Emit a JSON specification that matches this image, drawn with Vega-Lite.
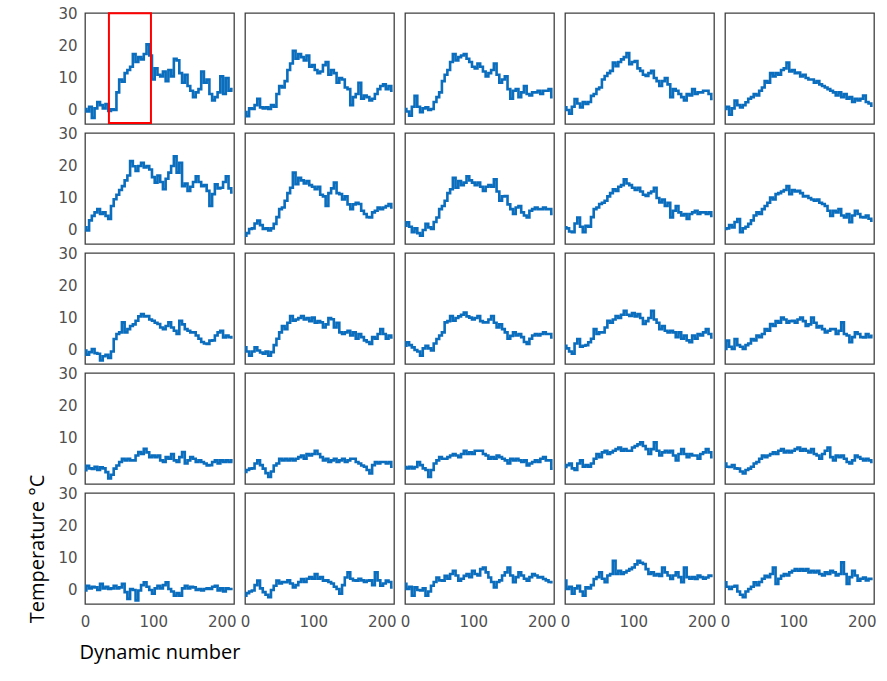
{
"$schema":"https://vega.github.io/schema/vega-lite/v6.json",
"padding":{"left":27,"top":6,"right":5,"bottom":5},
"background":"white",
"datasets":{
"box":[{"x1":35,"x2":96.5,"y1":30.2,"y2":-4.1}],
"s":[
{"p":1,"x":0,"t":0.3},{"p":1,"x":4,"t":-0.5},{"p":1,"x":8,"t":1.0},{"p":1,"x":12,"t":-2.5},{"p":1,"x":16,"t":0.5},{"p":1,"x":20,"t":2.5},{"p":1,"x":24,"t":1.5},{"p":1,"x":28,"t":0.5},{"p":1,"x":32,"t":1.8},{"p":1,"x":36,"t":-0.3},{"p":1,"x":40,"t":0.2},{"p":1,"x":44,"t":0.0},{"p":1,"x":48,"t":5.5},{"p":1,"x":52,"t":9.5},{"p":1,"x":56,"t":8.8},{"p":1,"x":60,"t":11.5},{"p":1,"x":64,"t":12.5},{"p":1,"x":68,"t":13.5},{"p":1,"x":72,"t":17.5},{"p":1,"x":76,"t":15.0},{"p":1,"x":80,"t":16.5},{"p":1,"x":84,"t":15.8},{"p":1,"x":88,"t":17.5},{"p":1,"x":92,"t":20.5},{"p":1,"x":96,"t":17.0},{"p":1,"x":100,"t":9.5},{"p":1,"x":104,"t":13.0},{"p":1,"x":108,"t":11.0},{"p":1,"x":112,"t":10.5},{"p":1,"x":116,"t":12.0},{"p":1,"x":120,"t":9.0},{"p":1,"x":124,"t":12.5},{"p":1,"x":128,"t":10.5},{"p":1,"x":132,"t":16.0},{"p":1,"x":136,"t":15.5},{"p":1,"x":140,"t":11.5},{"p":1,"x":144,"t":8.5},{"p":1,"x":148,"t":11.0},{"p":1,"x":152,"t":7.5},{"p":1,"x":156,"t":6.0},{"p":1,"x":160,"t":4.0},{"p":1,"x":164,"t":5.5},{"p":1,"x":168,"t":6.5},{"p":1,"x":172,"t":12.0},{"p":1,"x":176,"t":8.5},{"p":1,"x":180,"t":9.5},{"p":1,"x":184,"t":5.0},{"p":1,"x":188,"t":3.0},{"p":1,"x":192,"t":4.0},{"p":1,"x":196,"t":5.5},{"p":1,"x":200,"t":10.5},{"p":1,"x":204,"t":5.0},{"p":1,"x":208,"t":10.0},{"p":1,"x":212,"t":6.0},{"p":1,"x":216,"t":6.5},
{"p":2,"x":0,"t":-0.7},{"p":2,"x":4,"t":-2.0},{"p":2,"x":8,"t":0.5},{"p":2,"x":12,"t":0.3},{"p":2,"x":16,"t":1.5},{"p":2,"x":20,"t":3.5},{"p":2,"x":24,"t":0.8},{"p":2,"x":28,"t":0.5},{"p":2,"x":32,"t":0.8},{"p":2,"x":36,"t":0.3},{"p":2,"x":40,"t":1.5},{"p":2,"x":44,"t":1.0},{"p":2,"x":48,"t":5.0},{"p":2,"x":52,"t":7.5},{"p":2,"x":56,"t":7.0},{"p":2,"x":60,"t":9.0},{"p":2,"x":64,"t":12.5},{"p":2,"x":68,"t":14.5},{"p":2,"x":72,"t":18.5},{"p":2,"x":76,"t":16.0},{"p":2,"x":80,"t":17.5},{"p":2,"x":84,"t":16.5},{"p":2,"x":88,"t":15.5},{"p":2,"x":92,"t":17.0},{"p":2,"x":96,"t":13.5},{"p":2,"x":100,"t":14.0},{"p":2,"x":104,"t":12.5},{"p":2,"x":108,"t":11.5},{"p":2,"x":112,"t":12.0},{"p":2,"x":116,"t":14.0},{"p":2,"x":120,"t":15.0},{"p":2,"x":124,"t":11.0},{"p":2,"x":128,"t":12.5},{"p":2,"x":132,"t":11.5},{"p":2,"x":136,"t":8.5},{"p":2,"x":140,"t":10.0},{"p":2,"x":144,"t":9.5},{"p":2,"x":148,"t":7.0},{"p":2,"x":152,"t":6.5},{"p":2,"x":156,"t":1.5},{"p":2,"x":160,"t":4.0},{"p":2,"x":164,"t":5.0},{"p":2,"x":168,"t":8.5},{"p":2,"x":172,"t":3.5},{"p":2,"x":176,"t":4.5},{"p":2,"x":180,"t":4.0},{"p":2,"x":184,"t":3.0},{"p":2,"x":188,"t":3.5},{"p":2,"x":192,"t":5.0},{"p":2,"x":196,"t":6.5},{"p":2,"x":200,"t":7.5},{"p":2,"x":204,"t":8.0},{"p":2,"x":208,"t":6.5},{"p":2,"x":212,"t":7.5},{"p":2,"x":216,"t":6.0},
{"p":3,"x":0,"t":0.3},{"p":3,"x":4,"t":-0.5},{"p":3,"x":8,"t":-1.8},{"p":3,"x":12,"t":1.0},{"p":3,"x":16,"t":4.4},{"p":3,"x":20,"t":1.0},{"p":3,"x":24,"t":-0.7},{"p":3,"x":28,"t":0.5},{"p":3,"x":32,"t":0.8},{"p":3,"x":36,"t":0.0},{"p":3,"x":40,"t":0.3},{"p":3,"x":44,"t":2.5},{"p":3,"x":48,"t":4.0},{"p":3,"x":52,"t":5.5},{"p":3,"x":56,"t":9.0},{"p":3,"x":60,"t":11.0},{"p":3,"x":64,"t":12.5},{"p":3,"x":68,"t":15.0},{"p":3,"x":72,"t":17.5},{"p":3,"x":76,"t":15.5},{"p":3,"x":80,"t":16.5},{"p":3,"x":84,"t":17.0},{"p":3,"x":88,"t":17.5},{"p":3,"x":92,"t":16.0},{"p":3,"x":96,"t":15.0},{"p":3,"x":100,"t":13.5},{"p":3,"x":104,"t":13.0},{"p":3,"x":108,"t":14.5},{"p":3,"x":112,"t":13.5},{"p":3,"x":116,"t":12.0},{"p":3,"x":120,"t":10.5},{"p":3,"x":124,"t":11.5},{"p":3,"x":128,"t":12.5},{"p":3,"x":132,"t":14.5},{"p":3,"x":136,"t":11.0},{"p":3,"x":140,"t":8.5},{"p":3,"x":144,"t":9.5},{"p":3,"x":148,"t":10.5},{"p":3,"x":152,"t":6.5},{"p":3,"x":156,"t":3.5},{"p":3,"x":160,"t":6.0},{"p":3,"x":164,"t":6.5},{"p":3,"x":168,"t":4.0},{"p":3,"x":172,"t":5.5},{"p":3,"x":176,"t":7.5},{"p":3,"x":180,"t":5.0},{"p":3,"x":184,"t":4.5},{"p":3,"x":188,"t":5.5},{"p":3,"x":192,"t":5.5},{"p":3,"x":196,"t":6.0},{"p":3,"x":200,"t":5.0},{"p":3,"x":204,"t":6.0},{"p":3,"x":208,"t":6.0},{"p":3,"x":212,"t":6.5},{"p":3,"x":216,"t":4.0},
{"p":4,"x":0,"t":0.8},{"p":4,"x":4,"t":0.0},{"p":4,"x":8,"t":-1.2},{"p":4,"x":12,"t":1.0},{"p":4,"x":16,"t":3.4},{"p":4,"x":20,"t":2.0},{"p":4,"x":24,"t":0.8},{"p":4,"x":28,"t":2.5},{"p":4,"x":32,"t":1.9},{"p":4,"x":36,"t":2.5},{"p":4,"x":40,"t":4.4},{"p":4,"x":44,"t":5.0},{"p":4,"x":48,"t":6.5},{"p":4,"x":52,"t":7.0},{"p":4,"x":56,"t":9.5},{"p":4,"x":60,"t":10.6},{"p":4,"x":64,"t":11.5},{"p":4,"x":68,"t":12.2},{"p":4,"x":72,"t":14.8},{"p":4,"x":76,"t":13.7},{"p":4,"x":80,"t":15.0},{"p":4,"x":84,"t":15.8},{"p":4,"x":88,"t":16.5},{"p":4,"x":92,"t":17.8},{"p":4,"x":96,"t":14.3},{"p":4,"x":100,"t":15.0},{"p":4,"x":104,"t":15.3},{"p":4,"x":108,"t":13.0},{"p":4,"x":112,"t":12.2},{"p":4,"x":116,"t":11.0},{"p":4,"x":120,"t":10.6},{"p":4,"x":124,"t":11.5},{"p":4,"x":128,"t":12.2},{"p":4,"x":132,"t":10.0},{"p":4,"x":136,"t":9.0},{"p":4,"x":140,"t":7.5},{"p":4,"x":144,"t":9.0},{"p":4,"x":148,"t":10.0},{"p":4,"x":152,"t":8.0},{"p":4,"x":156,"t":4.0},{"p":4,"x":160,"t":6.5},{"p":4,"x":164,"t":6.0},{"p":4,"x":168,"t":5.0},{"p":4,"x":172,"t":4.0},{"p":4,"x":176,"t":3.0},{"p":4,"x":180,"t":5.0},{"p":4,"x":184,"t":4.5},{"p":4,"x":188,"t":6.5},{"p":4,"x":192,"t":5.0},{"p":4,"x":196,"t":5.5},{"p":4,"x":200,"t":5.5},{"p":4,"x":204,"t":6.0},{"p":4,"x":208,"t":6.0},{"p":4,"x":212,"t":5.0},{"p":4,"x":216,"t":3.4},
{"p":5,"x":0,"t":0.3},{"p":5,"x":4,"t":1.0},{"p":5,"x":8,"t":-1.5},{"p":5,"x":12,"t":0.5},{"p":5,"x":16,"t":2.9},{"p":5,"x":20,"t":1.5},{"p":5,"x":24,"t":0.8},{"p":5,"x":28,"t":1.5},{"p":5,"x":32,"t":2.4},{"p":5,"x":36,"t":3.5},{"p":5,"x":40,"t":4.0},{"p":5,"x":44,"t":5.0},{"p":5,"x":48,"t":4.5},{"p":5,"x":52,"t":6.0},{"p":5,"x":56,"t":7.0},{"p":5,"x":60,"t":9.0},{"p":5,"x":64,"t":8.5},{"p":5,"x":68,"t":11.5},{"p":5,"x":72,"t":10.5},{"p":5,"x":76,"t":11.5},{"p":5,"x":80,"t":11.0},{"p":5,"x":84,"t":12.5},{"p":5,"x":88,"t":13.0},{"p":5,"x":92,"t":14.8},{"p":5,"x":96,"t":12.0},{"p":5,"x":100,"t":12.5},{"p":5,"x":104,"t":11.5},{"p":5,"x":108,"t":11.7},{"p":5,"x":112,"t":10.5},{"p":5,"x":116,"t":11.0},{"p":5,"x":120,"t":10.0},{"p":5,"x":124,"t":9.5},{"p":5,"x":128,"t":9.5},{"p":5,"x":132,"t":8.5},{"p":5,"x":136,"t":9.0},{"p":5,"x":140,"t":8.0},{"p":5,"x":144,"t":7.5},{"p":5,"x":148,"t":7.0},{"p":5,"x":152,"t":6.5},{"p":5,"x":156,"t":6.0},{"p":5,"x":160,"t":5.5},{"p":5,"x":164,"t":4.5},{"p":5,"x":168,"t":5.5},{"p":5,"x":172,"t":4.0},{"p":5,"x":176,"t":5.0},{"p":5,"x":180,"t":3.5},{"p":5,"x":184,"t":4.0},{"p":5,"x":188,"t":2.5},{"p":5,"x":192,"t":3.5},{"p":5,"x":196,"t":3.0},{"p":5,"x":200,"t":3.5},{"p":5,"x":204,"t":4.5},{"p":5,"x":208,"t":2.5},{"p":5,"x":212,"t":2.0},{"p":5,"x":216,"t":1.3},
{"p":6,"x":0,"t":0.8},{"p":6,"x":4,"t":-0.2},{"p":6,"x":8,"t":3.0},{"p":6,"x":12,"t":4.4},{"p":6,"x":16,"t":5.5},{"p":6,"x":20,"t":6.5},{"p":6,"x":24,"t":5.0},{"p":6,"x":28,"t":5.5},{"p":6,"x":32,"t":4.4},{"p":6,"x":36,"t":3.4},{"p":6,"x":40,"t":7.5},{"p":6,"x":44,"t":9.6},{"p":6,"x":48,"t":11.0},{"p":6,"x":52,"t":12.5},{"p":6,"x":56,"t":13.7},{"p":6,"x":60,"t":15.5},{"p":6,"x":64,"t":17.0},{"p":6,"x":68,"t":21.5},{"p":6,"x":72,"t":19.9},{"p":6,"x":76,"t":18.4},{"p":6,"x":80,"t":20.0},{"p":6,"x":84,"t":21.0},{"p":6,"x":88,"t":19.5},{"p":6,"x":92,"t":20.0},{"p":6,"x":96,"t":18.9},{"p":6,"x":100,"t":16.5},{"p":6,"x":104,"t":14.8},{"p":6,"x":108,"t":17.0},{"p":6,"x":112,"t":15.0},{"p":6,"x":116,"t":12.7},{"p":6,"x":120,"t":16.0},{"p":6,"x":124,"t":17.9},{"p":6,"x":128,"t":20.0},{"p":6,"x":132,"t":23.0},{"p":6,"x":136,"t":17.9},{"p":6,"x":140,"t":21.0},{"p":6,"x":144,"t":13.7},{"p":6,"x":148,"t":14.5},{"p":6,"x":152,"t":12.2},{"p":6,"x":156,"t":13.5},{"p":6,"x":160,"t":15.0},{"p":6,"x":164,"t":16.8},{"p":6,"x":168,"t":15.0},{"p":6,"x":172,"t":13.7},{"p":6,"x":176,"t":14.0},{"p":6,"x":180,"t":12.2},{"p":6,"x":184,"t":7.5},{"p":6,"x":188,"t":11.2},{"p":6,"x":192,"t":14.3},{"p":6,"x":196,"t":13.0},{"p":6,"x":200,"t":13.2},{"p":6,"x":204,"t":15.0},{"p":6,"x":208,"t":16.8},{"p":6,"x":212,"t":13.0},{"p":6,"x":216,"t":11.7},
{"p":7,"x":0,"t":-1.8},{"p":7,"x":4,"t":-1.0},{"p":7,"x":8,"t":0.3},{"p":7,"x":12,"t":0.5},{"p":7,"x":16,"t":2.0},{"p":7,"x":20,"t":2.9},{"p":7,"x":24,"t":1.5},{"p":7,"x":28,"t":0.3},{"p":7,"x":32,"t":0.5},{"p":7,"x":36,"t":-0.2},{"p":7,"x":40,"t":0.5},{"p":7,"x":44,"t":1.9},{"p":7,"x":48,"t":4.0},{"p":7,"x":52,"t":6.5},{"p":7,"x":56,"t":7.0},{"p":7,"x":60,"t":9.1},{"p":7,"x":64,"t":11.5},{"p":7,"x":68,"t":13.2},{"p":7,"x":72,"t":17.9},{"p":7,"x":76,"t":14.3},{"p":7,"x":80,"t":16.3},{"p":7,"x":84,"t":15.5},{"p":7,"x":88,"t":14.5},{"p":7,"x":92,"t":15.3},{"p":7,"x":96,"t":14.0},{"p":7,"x":100,"t":13.5},{"p":7,"x":104,"t":12.7},{"p":7,"x":108,"t":13.5},{"p":7,"x":112,"t":11.0},{"p":7,"x":116,"t":10.5},{"p":7,"x":120,"t":7.5},{"p":7,"x":124,"t":11.5},{"p":7,"x":128,"t":13.0},{"p":7,"x":132,"t":14.8},{"p":7,"x":136,"t":11.5},{"p":7,"x":140,"t":11.2},{"p":7,"x":144,"t":9.5},{"p":7,"x":148,"t":10.5},{"p":7,"x":152,"t":8.0},{"p":7,"x":156,"t":6.5},{"p":7,"x":160,"t":8.0},{"p":7,"x":164,"t":8.5},{"p":7,"x":168,"t":8.1},{"p":7,"x":172,"t":6.0},{"p":7,"x":176,"t":5.0},{"p":7,"x":180,"t":4.0},{"p":7,"x":184,"t":3.9},{"p":7,"x":188,"t":5.5},{"p":7,"x":192,"t":6.0},{"p":7,"x":196,"t":7.0},{"p":7,"x":200,"t":6.5},{"p":7,"x":204,"t":7.0},{"p":7,"x":208,"t":7.5},{"p":7,"x":212,"t":8.1},{"p":7,"x":216,"t":7.0},
{"p":8,"x":0,"t":1.3},{"p":8,"x":4,"t":2.4},{"p":8,"x":8,"t":1.0},{"p":8,"x":12,"t":-0.7},{"p":8,"x":16,"t":0.5},{"p":8,"x":20,"t":-1.0},{"p":8,"x":24,"t":-1.8},{"p":8,"x":28,"t":0.0},{"p":8,"x":32,"t":1.9},{"p":8,"x":36,"t":0.8},{"p":8,"x":40,"t":0.3},{"p":8,"x":44,"t":2.5},{"p":8,"x":48,"t":3.9},{"p":8,"x":52,"t":6.5},{"p":8,"x":56,"t":7.5},{"p":8,"x":60,"t":9.1},{"p":8,"x":64,"t":11.5},{"p":8,"x":68,"t":12.7},{"p":8,"x":72,"t":16.3},{"p":8,"x":76,"t":13.2},{"p":8,"x":80,"t":15.3},{"p":8,"x":84,"t":14.0},{"p":8,"x":88,"t":14.8},{"p":8,"x":92,"t":16.8},{"p":8,"x":96,"t":15.5},{"p":8,"x":100,"t":14.8},{"p":8,"x":104,"t":14.0},{"p":8,"x":108,"t":14.8},{"p":8,"x":112,"t":13.5},{"p":8,"x":116,"t":12.2},{"p":8,"x":120,"t":13.5},{"p":8,"x":124,"t":14.0},{"p":8,"x":128,"t":13.5},{"p":8,"x":132,"t":15.8},{"p":8,"x":136,"t":12.0},{"p":8,"x":140,"t":9.1},{"p":8,"x":144,"t":10.5},{"p":8,"x":148,"t":10.6},{"p":8,"x":152,"t":8.0},{"p":8,"x":156,"t":6.5},{"p":8,"x":160,"t":5.0},{"p":8,"x":164,"t":7.0},{"p":8,"x":168,"t":7.5},{"p":8,"x":172,"t":5.5},{"p":8,"x":176,"t":4.5},{"p":8,"x":180,"t":3.9},{"p":8,"x":184,"t":6.0},{"p":8,"x":188,"t":6.5},{"p":8,"x":192,"t":7.0},{"p":8,"x":196,"t":6.5},{"p":8,"x":200,"t":6.5},{"p":8,"x":204,"t":7.0},{"p":8,"x":208,"t":6.5},{"p":8,"x":212,"t":6.5},{"p":8,"x":216,"t":5.0},
{"p":9,"x":0,"t":0.8},{"p":9,"x":4,"t":0.5},{"p":9,"x":8,"t":-0.5},{"p":9,"x":12,"t":-0.7},{"p":9,"x":16,"t":2.0},{"p":9,"x":20,"t":3.9},{"p":9,"x":24,"t":1.0},{"p":9,"x":28,"t":-0.7},{"p":9,"x":32,"t":1.3},{"p":9,"x":36,"t":1.0},{"p":9,"x":40,"t":4.0},{"p":9,"x":44,"t":6.5},{"p":9,"x":48,"t":7.0},{"p":9,"x":52,"t":8.1},{"p":9,"x":56,"t":8.5},{"p":9,"x":60,"t":9.1},{"p":9,"x":64,"t":10.5},{"p":9,"x":68,"t":11.5},{"p":9,"x":72,"t":12.7},{"p":9,"x":76,"t":12.2},{"p":9,"x":80,"t":13.5},{"p":9,"x":84,"t":14.0},{"p":9,"x":88,"t":15.8},{"p":9,"x":92,"t":14.5},{"p":9,"x":96,"t":14.0},{"p":9,"x":100,"t":13.2},{"p":9,"x":104,"t":12.5},{"p":9,"x":108,"t":13.2},{"p":9,"x":112,"t":12.0},{"p":9,"x":116,"t":11.0},{"p":9,"x":120,"t":10.6},{"p":9,"x":124,"t":11.5},{"p":9,"x":128,"t":12.0},{"p":9,"x":132,"t":13.2},{"p":9,"x":136,"t":10.0},{"p":9,"x":140,"t":8.6},{"p":9,"x":144,"t":9.5},{"p":9,"x":148,"t":7.5},{"p":9,"x":152,"t":8.5},{"p":9,"x":156,"t":3.9},{"p":9,"x":160,"t":6.0},{"p":9,"x":164,"t":7.5},{"p":9,"x":168,"t":5.5},{"p":9,"x":172,"t":4.5},{"p":9,"x":176,"t":5.0},{"p":9,"x":180,"t":3.4},{"p":9,"x":184,"t":5.0},{"p":9,"x":188,"t":5.5},{"p":9,"x":192,"t":6.0},{"p":9,"x":196,"t":5.0},{"p":9,"x":200,"t":5.5},{"p":9,"x":204,"t":5.5},{"p":9,"x":208,"t":5.0},{"p":9,"x":212,"t":5.5},{"p":9,"x":216,"t":4.4},
{"p":10,"x":0,"t":0.3},{"p":10,"x":4,"t":0.5},{"p":10,"x":8,"t":1.5},{"p":10,"x":12,"t":0.8},{"p":10,"x":16,"t":2.5},{"p":10,"x":20,"t":3.4},{"p":10,"x":24,"t":-0.7},{"p":10,"x":28,"t":0.5},{"p":10,"x":32,"t":1.0},{"p":10,"x":36,"t":1.9},{"p":10,"x":40,"t":3.0},{"p":10,"x":44,"t":4.5},{"p":10,"x":48,"t":5.5},{"p":10,"x":52,"t":5.0},{"p":10,"x":56,"t":6.5},{"p":10,"x":60,"t":7.5},{"p":10,"x":64,"t":8.5},{"p":10,"x":68,"t":10.1},{"p":10,"x":72,"t":9.5},{"p":10,"x":76,"t":11.2},{"p":10,"x":80,"t":11.5},{"p":10,"x":84,"t":12.0},{"p":10,"x":88,"t":12.5},{"p":10,"x":92,"t":13.7},{"p":10,"x":96,"t":11.2},{"p":10,"x":100,"t":12.5},{"p":10,"x":104,"t":12.0},{"p":10,"x":108,"t":12.2},{"p":10,"x":112,"t":11.5},{"p":10,"x":116,"t":10.5},{"p":10,"x":120,"t":10.6},{"p":10,"x":124,"t":10.0},{"p":10,"x":128,"t":9.5},{"p":10,"x":132,"t":9.1},{"p":10,"x":136,"t":9.5},{"p":10,"x":140,"t":8.5},{"p":10,"x":144,"t":8.1},{"p":10,"x":148,"t":7.5},{"p":10,"x":152,"t":6.0},{"p":10,"x":156,"t":4.4},{"p":10,"x":160,"t":6.0},{"p":10,"x":164,"t":5.5},{"p":10,"x":168,"t":6.5},{"p":10,"x":172,"t":4.5},{"p":10,"x":176,"t":3.9},{"p":10,"x":180,"t":5.0},{"p":10,"x":184,"t":2.4},{"p":10,"x":188,"t":4.5},{"p":10,"x":192,"t":6.0},{"p":10,"x":196,"t":5.0},{"p":10,"x":200,"t":4.0},{"p":10,"x":204,"t":3.9},{"p":10,"x":208,"t":4.5},{"p":10,"x":212,"t":3.5},{"p":10,"x":216,"t":2.9},
{"p":11,"x":0,"t":-0.2},{"p":11,"x":4,"t":-1.5},{"p":11,"x":8,"t":-0.7},{"p":11,"x":12,"t":0.3},{"p":11,"x":16,"t":-1.0},{"p":11,"x":20,"t":-1.2},{"p":11,"x":24,"t":-3.3},{"p":11,"x":28,"t":-2.0},{"p":11,"x":32,"t":-1.5},{"p":11,"x":36,"t":-2.5},{"p":11,"x":40,"t":-0.5},{"p":11,"x":44,"t":3.4},{"p":11,"x":48,"t":5.0},{"p":11,"x":52,"t":5.5},{"p":11,"x":56,"t":8.6},{"p":11,"x":60,"t":5.5},{"p":11,"x":64,"t":6.5},{"p":11,"x":68,"t":7.5},{"p":11,"x":72,"t":8.0},{"p":11,"x":76,"t":9.1},{"p":11,"x":80,"t":10.5},{"p":11,"x":84,"t":11.2},{"p":11,"x":88,"t":10.5},{"p":11,"x":92,"t":10.6},{"p":11,"x":96,"t":9.5},{"p":11,"x":100,"t":9.1},{"p":11,"x":104,"t":8.5},{"p":11,"x":108,"t":8.1},{"p":11,"x":112,"t":7.0},{"p":11,"x":116,"t":6.5},{"p":11,"x":120,"t":7.5},{"p":11,"x":124,"t":8.6},{"p":11,"x":128,"t":7.0},{"p":11,"x":132,"t":6.0},{"p":11,"x":136,"t":5.0},{"p":11,"x":140,"t":9.1},{"p":11,"x":144,"t":8.0},{"p":11,"x":148,"t":6.5},{"p":11,"x":152,"t":6.0},{"p":11,"x":156,"t":5.5},{"p":11,"x":160,"t":5.5},{"p":11,"x":164,"t":4.5},{"p":11,"x":168,"t":3.5},{"p":11,"x":172,"t":2.5},{"p":11,"x":176,"t":2.0},{"p":11,"x":180,"t":1.9},{"p":11,"x":184,"t":2.9},{"p":11,"x":188,"t":3.0},{"p":11,"x":192,"t":4.5},{"p":11,"x":196,"t":5.5},{"p":11,"x":200,"t":6.0},{"p":11,"x":204,"t":3.9},{"p":11,"x":208,"t":4.5},{"p":11,"x":212,"t":4.0},{"p":11,"x":216,"t":3.9},
{"p":12,"x":0,"t":0.8},{"p":12,"x":4,"t":-0.5},{"p":12,"x":8,"t":-1.8},{"p":12,"x":12,"t":-0.5},{"p":12,"x":16,"t":0.8},{"p":12,"x":20,"t":-0.2},{"p":12,"x":24,"t":-0.8},{"p":12,"x":28,"t":-1.2},{"p":12,"x":32,"t":-0.5},{"p":12,"x":36,"t":-1.8},{"p":12,"x":40,"t":-0.7},{"p":12,"x":44,"t":1.5},{"p":12,"x":48,"t":3.5},{"p":12,"x":52,"t":5.5},{"p":12,"x":56,"t":7.5},{"p":12,"x":60,"t":6.5},{"p":12,"x":64,"t":8.5},{"p":12,"x":68,"t":10.6},{"p":12,"x":72,"t":9.1},{"p":12,"x":76,"t":9.5},{"p":12,"x":80,"t":10.0},{"p":12,"x":84,"t":10.6},{"p":12,"x":88,"t":9.5},{"p":12,"x":92,"t":10.0},{"p":12,"x":96,"t":9.0},{"p":12,"x":100,"t":10.1},{"p":12,"x":104,"t":8.5},{"p":12,"x":108,"t":9.0},{"p":12,"x":112,"t":8.6},{"p":12,"x":116,"t":7.0},{"p":12,"x":120,"t":8.0},{"p":12,"x":124,"t":10.0},{"p":12,"x":128,"t":9.6},{"p":12,"x":132,"t":7.0},{"p":12,"x":136,"t":8.5},{"p":12,"x":140,"t":5.5},{"p":12,"x":144,"t":5.0},{"p":12,"x":148,"t":5.5},{"p":12,"x":152,"t":6.0},{"p":12,"x":156,"t":4.5},{"p":12,"x":160,"t":5.5},{"p":12,"x":164,"t":3.5},{"p":12,"x":168,"t":5.0},{"p":12,"x":172,"t":4.0},{"p":12,"x":176,"t":3.0},{"p":12,"x":180,"t":2.5},{"p":12,"x":184,"t":1.9},{"p":12,"x":188,"t":4.0},{"p":12,"x":192,"t":3.5},{"p":12,"x":196,"t":5.0},{"p":12,"x":200,"t":6.5},{"p":12,"x":204,"t":5.0},{"p":12,"x":208,"t":3.5},{"p":12,"x":212,"t":4.5},{"p":12,"x":216,"t":3.9},
{"p":13,"x":0,"t":1.3},{"p":13,"x":4,"t":2.4},{"p":13,"x":8,"t":1.5},{"p":13,"x":12,"t":0.8},{"p":13,"x":16,"t":0.0},{"p":13,"x":20,"t":-0.5},{"p":13,"x":24,"t":-1.8},{"p":13,"x":28,"t":0.5},{"p":13,"x":32,"t":1.3},{"p":13,"x":36,"t":0.5},{"p":13,"x":40,"t":-0.2},{"p":13,"x":44,"t":2.0},{"p":13,"x":48,"t":3.4},{"p":13,"x":52,"t":4.5},{"p":13,"x":56,"t":5.5},{"p":13,"x":60,"t":8.6},{"p":13,"x":64,"t":9.0},{"p":13,"x":68,"t":10.6},{"p":13,"x":72,"t":9.1},{"p":13,"x":76,"t":10.0},{"p":13,"x":80,"t":10.5},{"p":13,"x":84,"t":11.0},{"p":13,"x":88,"t":11.7},{"p":13,"x":92,"t":10.5},{"p":13,"x":96,"t":10.1},{"p":13,"x":100,"t":9.5},{"p":13,"x":104,"t":10.0},{"p":13,"x":108,"t":10.6},{"p":13,"x":112,"t":9.0},{"p":13,"x":116,"t":8.6},{"p":13,"x":120,"t":8.6},{"p":13,"x":124,"t":9.5},{"p":13,"x":128,"t":10.6},{"p":13,"x":132,"t":8.5},{"p":13,"x":136,"t":7.0},{"p":13,"x":140,"t":8.0},{"p":13,"x":144,"t":6.5},{"p":13,"x":148,"t":5.5},{"p":13,"x":152,"t":3.5},{"p":13,"x":156,"t":4.4},{"p":13,"x":160,"t":5.5},{"p":13,"x":164,"t":4.5},{"p":13,"x":168,"t":5.0},{"p":13,"x":172,"t":4.0},{"p":13,"x":176,"t":2.5},{"p":13,"x":180,"t":1.9},{"p":13,"x":184,"t":3.5},{"p":13,"x":188,"t":4.5},{"p":13,"x":192,"t":5.0},{"p":13,"x":196,"t":4.5},{"p":13,"x":200,"t":5.0},{"p":13,"x":204,"t":5.5},{"p":13,"x":208,"t":5.0},{"p":13,"x":212,"t":5.0},{"p":13,"x":216,"t":3.9},
{"p":14,"x":0,"t":1.3},{"p":14,"x":4,"t":0.5},{"p":14,"x":8,"t":-0.5},{"p":14,"x":12,"t":-1.2},{"p":14,"x":16,"t":2.0},{"p":14,"x":20,"t":3.4},{"p":14,"x":24,"t":1.0},{"p":14,"x":28,"t":1.3},{"p":14,"x":32,"t":1.5},{"p":14,"x":36,"t":2.4},{"p":14,"x":40,"t":3.5},{"p":14,"x":44,"t":6.5},{"p":14,"x":48,"t":5.0},{"p":14,"x":52,"t":5.5},{"p":14,"x":56,"t":5.5},{"p":14,"x":60,"t":7.0},{"p":14,"x":64,"t":9.1},{"p":14,"x":68,"t":8.5},{"p":14,"x":72,"t":9.5},{"p":14,"x":76,"t":10.6},{"p":14,"x":80,"t":10.0},{"p":14,"x":84,"t":11.0},{"p":14,"x":88,"t":12.2},{"p":14,"x":92,"t":11.0},{"p":14,"x":96,"t":10.6},{"p":14,"x":100,"t":11.5},{"p":14,"x":104,"t":10.5},{"p":14,"x":108,"t":11.2},{"p":14,"x":112,"t":10.0},{"p":14,"x":116,"t":8.1},{"p":14,"x":120,"t":9.0},{"p":14,"x":124,"t":10.0},{"p":14,"x":128,"t":12.2},{"p":14,"x":132,"t":9.5},{"p":14,"x":136,"t":8.5},{"p":14,"x":140,"t":6.5},{"p":14,"x":144,"t":7.5},{"p":14,"x":148,"t":6.0},{"p":14,"x":152,"t":5.5},{"p":14,"x":156,"t":6.0},{"p":14,"x":160,"t":5.5},{"p":14,"x":164,"t":4.0},{"p":14,"x":168,"t":5.5},{"p":14,"x":172,"t":3.5},{"p":14,"x":176,"t":4.5},{"p":14,"x":180,"t":3.0},{"p":14,"x":184,"t":2.4},{"p":14,"x":188,"t":4.5},{"p":14,"x":192,"t":3.5},{"p":14,"x":196,"t":5.0},{"p":14,"x":200,"t":4.5},{"p":14,"x":204,"t":5.5},{"p":14,"x":208,"t":6.5},{"p":14,"x":212,"t":5.0},{"p":14,"x":216,"t":3.9},
{"p":15,"x":0,"t":0.3},{"p":15,"x":4,"t":2.9},{"p":15,"x":8,"t":1.0},{"p":15,"x":12,"t":0.3},{"p":15,"x":16,"t":3.4},{"p":15,"x":20,"t":1.5},{"p":15,"x":24,"t":1.0},{"p":15,"x":28,"t":0.3},{"p":15,"x":32,"t":1.5},{"p":15,"x":36,"t":2.0},{"p":15,"x":40,"t":3.4},{"p":15,"x":44,"t":3.0},{"p":15,"x":48,"t":4.5},{"p":15,"x":52,"t":4.0},{"p":15,"x":56,"t":5.0},{"p":15,"x":60,"t":6.5},{"p":15,"x":64,"t":6.0},{"p":15,"x":68,"t":8.1},{"p":15,"x":72,"t":7.5},{"p":15,"x":76,"t":9.0},{"p":15,"x":80,"t":8.5},{"p":15,"x":84,"t":10.1},{"p":15,"x":88,"t":9.5},{"p":15,"x":92,"t":8.5},{"p":15,"x":96,"t":9.0},{"p":15,"x":100,"t":9.1},{"p":15,"x":104,"t":8.5},{"p":15,"x":108,"t":9.5},{"p":15,"x":112,"t":10.1},{"p":15,"x":116,"t":9.0},{"p":15,"x":120,"t":7.5},{"p":15,"x":124,"t":8.0},{"p":15,"x":128,"t":10.1},{"p":15,"x":132,"t":8.5},{"p":15,"x":136,"t":7.0},{"p":15,"x":140,"t":7.5},{"p":15,"x":144,"t":6.5},{"p":15,"x":148,"t":5.5},{"p":15,"x":152,"t":6.0},{"p":15,"x":156,"t":6.5},{"p":15,"x":160,"t":6.5},{"p":15,"x":164,"t":5.0},{"p":15,"x":168,"t":6.0},{"p":15,"x":172,"t":8.6},{"p":15,"x":176,"t":5.0},{"p":15,"x":180,"t":4.5},{"p":15,"x":184,"t":2.4},{"p":15,"x":188,"t":4.0},{"p":15,"x":192,"t":5.5},{"p":15,"x":196,"t":5.0},{"p":15,"x":200,"t":4.0},{"p":15,"x":204,"t":3.9},{"p":15,"x":208,"t":5.0},{"p":15,"x":212,"t":4.0},{"p":15,"x":216,"t":4.4},
{"p":16,"x":0,"t":-0.1},{"p":16,"x":4,"t":1.3},{"p":16,"x":8,"t":0.5},{"p":16,"x":12,"t":0.3},{"p":16,"x":16,"t":1.0},{"p":16,"x":20,"t":0.0},{"p":16,"x":24,"t":0.8},{"p":16,"x":28,"t":0.5},{"p":16,"x":32,"t":-0.7},{"p":16,"x":36,"t":-2.7},{"p":16,"x":40,"t":-1.5},{"p":16,"x":44,"t":0.4},{"p":16,"x":48,"t":1.4},{"p":16,"x":52,"t":2.5},{"p":16,"x":56,"t":3.5},{"p":16,"x":60,"t":3.0},{"p":16,"x":64,"t":3.5},{"p":16,"x":68,"t":3.0},{"p":16,"x":72,"t":3.0},{"p":16,"x":76,"t":4.5},{"p":16,"x":80,"t":5.6},{"p":16,"x":84,"t":5.0},{"p":16,"x":88,"t":6.6},{"p":16,"x":92,"t":5.5},{"p":16,"x":96,"t":4.0},{"p":16,"x":100,"t":4.5},{"p":16,"x":104,"t":4.0},{"p":16,"x":108,"t":4.5},{"p":16,"x":112,"t":3.0},{"p":16,"x":116,"t":2.5},{"p":16,"x":120,"t":4.0},{"p":16,"x":124,"t":3.5},{"p":16,"x":128,"t":5.0},{"p":16,"x":132,"t":3.0},{"p":16,"x":136,"t":2.5},{"p":16,"x":140,"t":4.0},{"p":16,"x":144,"t":5.6},{"p":16,"x":148,"t":2.0},{"p":16,"x":152,"t":3.0},{"p":16,"x":156,"t":4.0},{"p":16,"x":160,"t":3.5},{"p":16,"x":164,"t":2.5},{"p":16,"x":168,"t":3.0},{"p":16,"x":172,"t":2.5},{"p":16,"x":176,"t":2.0},{"p":16,"x":180,"t":1.4},{"p":16,"x":184,"t":1.5},{"p":16,"x":188,"t":2.5},{"p":16,"x":192,"t":3.0},{"p":16,"x":196,"t":2.0},{"p":16,"x":200,"t":3.0},{"p":16,"x":204,"t":2.5},{"p":16,"x":208,"t":3.0},{"p":16,"x":212,"t":2.5},{"p":16,"x":216,"t":3.0},
{"p":17,"x":0,"t":-0.6},{"p":17,"x":4,"t":0.0},{"p":17,"x":8,"t":0.4},{"p":17,"x":12,"t":0.5},{"p":17,"x":16,"t":2.0},{"p":17,"x":20,"t":3.0},{"p":17,"x":24,"t":1.5},{"p":17,"x":28,"t":0.4},{"p":17,"x":32,"t":-1.0},{"p":17,"x":36,"t":-2.2},{"p":17,"x":40,"t":-0.5},{"p":17,"x":44,"t":1.4},{"p":17,"x":48,"t":2.0},{"p":17,"x":52,"t":3.5},{"p":17,"x":56,"t":3.0},{"p":17,"x":60,"t":3.5},{"p":17,"x":64,"t":3.0},{"p":17,"x":68,"t":3.5},{"p":17,"x":72,"t":3.0},{"p":17,"x":76,"t":3.5},{"p":17,"x":80,"t":4.0},{"p":17,"x":84,"t":4.5},{"p":17,"x":88,"t":3.5},{"p":17,"x":92,"t":5.0},{"p":17,"x":96,"t":4.5},{"p":17,"x":100,"t":5.0},{"p":17,"x":104,"t":6.0},{"p":17,"x":108,"t":5.0},{"p":17,"x":112,"t":4.0},{"p":17,"x":116,"t":3.0},{"p":17,"x":120,"t":3.5},{"p":17,"x":124,"t":2.5},{"p":17,"x":128,"t":3.0},{"p":17,"x":132,"t":3.5},{"p":17,"x":136,"t":2.5},{"p":17,"x":140,"t":3.0},{"p":17,"x":144,"t":3.5},{"p":17,"x":148,"t":2.5},{"p":17,"x":152,"t":3.0},{"p":17,"x":156,"t":3.5},{"p":17,"x":160,"t":3.5},{"p":17,"x":164,"t":2.5},{"p":17,"x":168,"t":2.0},{"p":17,"x":172,"t":1.4},{"p":17,"x":176,"t":1.0},{"p":17,"x":180,"t":0.0},{"p":17,"x":184,"t":-1.1},{"p":17,"x":188,"t":1.5},{"p":17,"x":192,"t":2.5},{"p":17,"x":196,"t":2.0},{"p":17,"x":200,"t":2.5},{"p":17,"x":204,"t":2.5},{"p":17,"x":208,"t":2.0},{"p":17,"x":212,"t":2.5},{"p":17,"x":216,"t":1.0},
{"p":18,"x":0,"t":0.9},{"p":18,"x":4,"t":0.5},{"p":18,"x":8,"t":1.0},{"p":18,"x":12,"t":0.5},{"p":18,"x":16,"t":0.9},{"p":18,"x":20,"t":2.5},{"p":18,"x":24,"t":1.5},{"p":18,"x":28,"t":0.5},{"p":18,"x":32,"t":0.0},{"p":18,"x":36,"t":-2.2},{"p":18,"x":40,"t":0.0},{"p":18,"x":44,"t":2.0},{"p":18,"x":48,"t":3.0},{"p":18,"x":52,"t":4.0},{"p":18,"x":56,"t":3.5},{"p":18,"x":60,"t":3.5},{"p":18,"x":64,"t":4.0},{"p":18,"x":68,"t":4.5},{"p":18,"x":72,"t":5.0},{"p":18,"x":76,"t":4.5},{"p":18,"x":80,"t":4.0},{"p":18,"x":84,"t":5.0},{"p":18,"x":88,"t":6.0},{"p":18,"x":92,"t":5.0},{"p":18,"x":96,"t":5.5},{"p":18,"x":100,"t":5.0},{"p":18,"x":104,"t":6.0},{"p":18,"x":108,"t":6.0},{"p":18,"x":112,"t":6.0},{"p":18,"x":116,"t":5.0},{"p":18,"x":120,"t":4.5},{"p":18,"x":124,"t":3.5},{"p":18,"x":128,"t":4.0},{"p":18,"x":132,"t":3.5},{"p":18,"x":136,"t":4.5},{"p":18,"x":140,"t":4.0},{"p":18,"x":144,"t":3.5},{"p":18,"x":148,"t":3.0},{"p":18,"x":152,"t":2.0},{"p":18,"x":156,"t":3.5},{"p":18,"x":160,"t":3.0},{"p":18,"x":164,"t":3.5},{"p":18,"x":168,"t":3.0},{"p":18,"x":172,"t":2.5},{"p":18,"x":176,"t":3.0},{"p":18,"x":180,"t":1.4},{"p":18,"x":184,"t":2.0},{"p":18,"x":188,"t":2.5},{"p":18,"x":192,"t":3.0},{"p":18,"x":196,"t":2.5},{"p":18,"x":200,"t":3.5},{"p":18,"x":204,"t":4.0},{"p":18,"x":208,"t":3.0},{"p":18,"x":212,"t":3.0},{"p":18,"x":216,"t":0.4},
{"p":19,"x":0,"t":0.9},{"p":19,"x":4,"t":1.5},{"p":19,"x":8,"t":2.0},{"p":19,"x":12,"t":0.5},{"p":19,"x":16,"t":0.0},{"p":19,"x":20,"t":2.0},{"p":19,"x":24,"t":3.0},{"p":19,"x":28,"t":1.0},{"p":19,"x":32,"t":1.5},{"p":19,"x":36,"t":1.0},{"p":19,"x":40,"t":2.0},{"p":19,"x":44,"t":3.5},{"p":19,"x":48,"t":5.0},{"p":19,"x":52,"t":4.0},{"p":19,"x":56,"t":5.5},{"p":19,"x":60,"t":6.0},{"p":19,"x":64,"t":5.0},{"p":19,"x":68,"t":5.5},{"p":19,"x":72,"t":6.0},{"p":19,"x":76,"t":6.5},{"p":19,"x":80,"t":7.0},{"p":19,"x":84,"t":6.0},{"p":19,"x":88,"t":6.5},{"p":19,"x":92,"t":6.0},{"p":19,"x":96,"t":6.0},{"p":19,"x":100,"t":7.0},{"p":19,"x":104,"t":7.5},{"p":19,"x":108,"t":8.0},{"p":19,"x":112,"t":8.6},{"p":19,"x":116,"t":7.5},{"p":19,"x":120,"t":6.5},{"p":19,"x":124,"t":5.0},{"p":19,"x":128,"t":6.5},{"p":19,"x":132,"t":8.6},{"p":19,"x":136,"t":6.0},{"p":19,"x":140,"t":4.5},{"p":19,"x":144,"t":5.5},{"p":19,"x":148,"t":6.0},{"p":19,"x":152,"t":5.5},{"p":19,"x":156,"t":6.0},{"p":19,"x":160,"t":4.5},{"p":19,"x":164,"t":3.0},{"p":19,"x":168,"t":5.0},{"p":19,"x":172,"t":6.5},{"p":19,"x":176,"t":5.0},{"p":19,"x":180,"t":4.0},{"p":19,"x":184,"t":5.0},{"p":19,"x":188,"t":4.5},{"p":19,"x":192,"t":4.5},{"p":19,"x":196,"t":3.5},{"p":19,"x":200,"t":5.0},{"p":19,"x":204,"t":5.5},{"p":19,"x":208,"t":6.5},{"p":19,"x":212,"t":5.5},{"p":19,"x":216,"t":4.0},
{"p":20,"x":0,"t":2.0},{"p":20,"x":4,"t":1.0},{"p":20,"x":8,"t":0.9},{"p":20,"x":12,"t":1.5},{"p":20,"x":16,"t":0.5},{"p":20,"x":20,"t":0.4},{"p":20,"x":24,"t":-0.5},{"p":20,"x":28,"t":-1.1},{"p":20,"x":32,"t":0.0},{"p":20,"x":36,"t":0.4},{"p":20,"x":40,"t":1.0},{"p":20,"x":44,"t":2.0},{"p":20,"x":48,"t":2.5},{"p":20,"x":52,"t":3.5},{"p":20,"x":56,"t":4.5},{"p":20,"x":60,"t":4.0},{"p":20,"x":64,"t":4.5},{"p":20,"x":68,"t":5.0},{"p":20,"x":72,"t":5.5},{"p":20,"x":76,"t":5.0},{"p":20,"x":80,"t":6.0},{"p":20,"x":84,"t":6.5},{"p":20,"x":88,"t":5.5},{"p":20,"x":92,"t":6.0},{"p":20,"x":96,"t":5.5},{"p":20,"x":100,"t":6.0},{"p":20,"x":104,"t":6.5},{"p":20,"x":108,"t":7.0},{"p":20,"x":112,"t":6.0},{"p":20,"x":116,"t":6.5},{"p":20,"x":120,"t":6.0},{"p":20,"x":124,"t":5.5},{"p":20,"x":128,"t":6.5},{"p":20,"x":132,"t":5.0},{"p":20,"x":136,"t":4.5},{"p":20,"x":140,"t":3.5},{"p":20,"x":144,"t":5.0},{"p":20,"x":148,"t":6.0},{"p":20,"x":152,"t":7.0},{"p":20,"x":156,"t":4.0},{"p":20,"x":160,"t":3.0},{"p":20,"x":164,"t":4.5},{"p":20,"x":168,"t":4.0},{"p":20,"x":172,"t":4.5},{"p":20,"x":176,"t":3.5},{"p":20,"x":180,"t":2.5},{"p":20,"x":184,"t":2.0},{"p":20,"x":188,"t":3.0},{"p":20,"x":192,"t":4.5},{"p":20,"x":196,"t":4.0},{"p":20,"x":200,"t":3.5},{"p":20,"x":204,"t":3.0},{"p":20,"x":208,"t":3.5},{"p":20,"x":212,"t":3.0},{"p":20,"x":216,"t":2.5},
{"p":21,"x":0,"t":-0.2},{"p":21,"x":4,"t":1.3},{"p":21,"x":8,"t":0.5},{"p":21,"x":12,"t":1.0},{"p":21,"x":16,"t":0.8},{"p":21,"x":20,"t":0.0},{"p":21,"x":24,"t":1.9},{"p":21,"x":28,"t":0.5},{"p":21,"x":32,"t":1.0},{"p":21,"x":36,"t":0.3},{"p":21,"x":40,"t":0.5},{"p":21,"x":44,"t":1.3},{"p":21,"x":48,"t":0.5},{"p":21,"x":52,"t":0.8},{"p":21,"x":56,"t":1.9},{"p":21,"x":60,"t":-0.7},{"p":21,"x":64,"t":-2.8},{"p":21,"x":68,"t":0.3},{"p":21,"x":72,"t":0.0},{"p":21,"x":76,"t":-3.3},{"p":21,"x":80,"t":-0.2},{"p":21,"x":84,"t":1.5},{"p":21,"x":88,"t":2.4},{"p":21,"x":92,"t":1.0},{"p":21,"x":96,"t":0.0},{"p":21,"x":100,"t":-1.2},{"p":21,"x":104,"t":0.5},{"p":21,"x":108,"t":1.3},{"p":21,"x":112,"t":0.5},{"p":21,"x":116,"t":1.5},{"p":21,"x":120,"t":2.4},{"p":21,"x":124,"t":0.3},{"p":21,"x":128,"t":-0.5},{"p":21,"x":132,"t":-1.8},{"p":21,"x":136,"t":-1.0},{"p":21,"x":140,"t":-1.8},{"p":21,"x":144,"t":0.5},{"p":21,"x":148,"t":1.3},{"p":21,"x":152,"t":0.5},{"p":21,"x":156,"t":1.0},{"p":21,"x":160,"t":0.8},{"p":21,"x":164,"t":0.0},{"p":21,"x":168,"t":0.3},{"p":21,"x":172,"t":-0.2},{"p":21,"x":176,"t":0.3},{"p":21,"x":180,"t":0.5},{"p":21,"x":184,"t":0.3},{"p":21,"x":188,"t":1.0},{"p":21,"x":192,"t":1.3},{"p":21,"x":196,"t":-0.2},{"p":21,"x":200,"t":0.5},{"p":21,"x":204,"t":-0.5},{"p":21,"x":208,"t":0.5},{"p":21,"x":212,"t":0.3},{"p":21,"x":216,"t":0.3},
{"p":22,"x":0,"t":-1.8},{"p":22,"x":4,"t":-1.0},{"p":22,"x":8,"t":-0.5},{"p":22,"x":12,"t":-0.2},{"p":22,"x":16,"t":1.5},{"p":22,"x":20,"t":2.9},{"p":22,"x":24,"t":0.5},{"p":22,"x":28,"t":-0.7},{"p":22,"x":32,"t":-1.5},{"p":22,"x":36,"t":-2.3},{"p":22,"x":40,"t":0.0},{"p":22,"x":44,"t":1.3},{"p":22,"x":48,"t":2.9},{"p":22,"x":52,"t":2.0},{"p":22,"x":56,"t":2.5},{"p":22,"x":60,"t":2.4},{"p":22,"x":64,"t":3.0},{"p":22,"x":68,"t":2.0},{"p":22,"x":72,"t":0.8},{"p":22,"x":76,"t":1.5},{"p":22,"x":80,"t":2.5},{"p":22,"x":84,"t":3.4},{"p":22,"x":88,"t":2.5},{"p":22,"x":92,"t":3.5},{"p":22,"x":96,"t":4.0},{"p":22,"x":100,"t":3.5},{"p":22,"x":104,"t":5.0},{"p":22,"x":108,"t":3.5},{"p":22,"x":112,"t":4.0},{"p":22,"x":116,"t":2.9},{"p":22,"x":120,"t":3.0},{"p":22,"x":124,"t":2.5},{"p":22,"x":128,"t":2.0},{"p":22,"x":132,"t":1.0},{"p":22,"x":136,"t":0.3},{"p":22,"x":140,"t":-1.2},{"p":22,"x":144,"t":1.5},{"p":22,"x":148,"t":3.9},{"p":22,"x":152,"t":5.5},{"p":22,"x":156,"t":3.5},{"p":22,"x":160,"t":3.0},{"p":22,"x":164,"t":2.9},{"p":22,"x":168,"t":3.5},{"p":22,"x":172,"t":3.0},{"p":22,"x":176,"t":2.5},{"p":22,"x":180,"t":2.9},{"p":22,"x":184,"t":3.0},{"p":22,"x":188,"t":1.5},{"p":22,"x":192,"t":5.5},{"p":22,"x":196,"t":3.0},{"p":22,"x":200,"t":1.3},{"p":22,"x":204,"t":2.0},{"p":22,"x":208,"t":2.9},{"p":22,"x":212,"t":2.5},{"p":22,"x":216,"t":0.8},
{"p":23,"x":0,"t":1.9},{"p":23,"x":4,"t":0.3},{"p":23,"x":8,"t":1.0},{"p":23,"x":12,"t":-1.8},{"p":23,"x":16,"t":0.8},{"p":23,"x":20,"t":0.0},{"p":23,"x":24,"t":-0.2},{"p":23,"x":28,"t":0.5},{"p":23,"x":32,"t":-1.8},{"p":23,"x":36,"t":-0.5},{"p":23,"x":40,"t":1.3},{"p":23,"x":44,"t":2.5},{"p":23,"x":48,"t":3.9},{"p":23,"x":52,"t":3.0},{"p":23,"x":56,"t":2.9},{"p":23,"x":60,"t":4.4},{"p":23,"x":64,"t":3.5},{"p":23,"x":68,"t":5.0},{"p":23,"x":72,"t":6.0},{"p":23,"x":76,"t":4.5},{"p":23,"x":80,"t":2.9},{"p":23,"x":84,"t":3.5},{"p":23,"x":88,"t":4.4},{"p":23,"x":92,"t":5.0},{"p":23,"x":96,"t":4.0},{"p":23,"x":100,"t":6.0},{"p":23,"x":104,"t":5.0},{"p":23,"x":108,"t":4.5},{"p":23,"x":112,"t":6.5},{"p":23,"x":116,"t":7.0},{"p":23,"x":120,"t":5.5},{"p":23,"x":124,"t":3.9},{"p":23,"x":128,"t":2.5},{"p":23,"x":132,"t":0.8},{"p":23,"x":136,"t":2.5},{"p":23,"x":140,"t":3.0},{"p":23,"x":144,"t":4.5},{"p":23,"x":148,"t":5.5},{"p":23,"x":152,"t":7.0},{"p":23,"x":156,"t":4.5},{"p":23,"x":160,"t":2.4},{"p":23,"x":164,"t":4.0},{"p":23,"x":168,"t":5.5},{"p":23,"x":172,"t":4.5},{"p":23,"x":176,"t":3.5},{"p":23,"x":180,"t":2.9},{"p":23,"x":184,"t":4.0},{"p":23,"x":188,"t":5.0},{"p":23,"x":192,"t":4.5},{"p":23,"x":196,"t":3.9},{"p":23,"x":200,"t":4.0},{"p":23,"x":204,"t":3.4},{"p":23,"x":208,"t":3.0},{"p":23,"x":212,"t":2.5},{"p":23,"x":216,"t":2.4},
{"p":24,"x":0,"t":2.9},{"p":24,"x":4,"t":0.3},{"p":24,"x":8,"t":1.0},{"p":24,"x":12,"t":-1.2},{"p":24,"x":16,"t":0.5},{"p":24,"x":20,"t":1.3},{"p":24,"x":24,"t":-0.5},{"p":24,"x":28,"t":-1.8},{"p":24,"x":32,"t":0.8},{"p":24,"x":36,"t":0.5},{"p":24,"x":40,"t":1.5},{"p":24,"x":44,"t":3.4},{"p":24,"x":48,"t":4.0},{"p":24,"x":52,"t":5.5},{"p":24,"x":56,"t":3.5},{"p":24,"x":60,"t":2.4},{"p":24,"x":64,"t":4.5},{"p":24,"x":68,"t":5.0},{"p":24,"x":72,"t":9.1},{"p":24,"x":76,"t":5.0},{"p":24,"x":80,"t":6.0},{"p":24,"x":84,"t":5.0},{"p":24,"x":88,"t":5.5},{"p":24,"x":92,"t":6.0},{"p":24,"x":96,"t":6.5},{"p":24,"x":100,"t":7.0},{"p":24,"x":104,"t":8.0},{"p":24,"x":108,"t":9.1},{"p":24,"x":112,"t":8.5},{"p":24,"x":116,"t":8.1},{"p":24,"x":120,"t":6.5},{"p":24,"x":124,"t":5.0},{"p":24,"x":128,"t":5.5},{"p":24,"x":132,"t":4.5},{"p":24,"x":136,"t":5.0},{"p":24,"x":140,"t":4.4},{"p":24,"x":144,"t":7.0},{"p":24,"x":148,"t":5.5},{"p":24,"x":152,"t":4.5},{"p":24,"x":156,"t":3.4},{"p":24,"x":160,"t":4.5},{"p":24,"x":164,"t":5.5},{"p":24,"x":168,"t":4.0},{"p":24,"x":172,"t":2.4},{"p":24,"x":176,"t":7.0},{"p":24,"x":180,"t":4.0},{"p":24,"x":184,"t":3.5},{"p":24,"x":188,"t":4.0},{"p":24,"x":192,"t":3.4},{"p":24,"x":196,"t":4.5},{"p":24,"x":200,"t":4.0},{"p":24,"x":204,"t":3.5},{"p":24,"x":208,"t":3.9},{"p":24,"x":212,"t":4.5},{"p":24,"x":216,"t":4.4},
{"p":25,"x":0,"t":2.4},{"p":25,"x":4,"t":1.0},{"p":25,"x":8,"t":0.3},{"p":25,"x":12,"t":1.0},{"p":25,"x":16,"t":1.3},{"p":25,"x":20,"t":-0.5},{"p":25,"x":24,"t":-1.5},{"p":25,"x":28,"t":-2.3},{"p":25,"x":32,"t":-0.5},{"p":25,"x":36,"t":0.3},{"p":25,"x":40,"t":1.0},{"p":25,"x":44,"t":2.4},{"p":25,"x":48,"t":1.5},{"p":25,"x":52,"t":2.5},{"p":25,"x":56,"t":3.5},{"p":25,"x":60,"t":4.4},{"p":25,"x":64,"t":4.0},{"p":25,"x":68,"t":5.0},{"p":25,"x":72,"t":7.0},{"p":25,"x":76,"t":1.9},{"p":25,"x":80,"t":3.5},{"p":25,"x":84,"t":4.4},{"p":25,"x":88,"t":5.0},{"p":25,"x":92,"t":4.5},{"p":25,"x":96,"t":5.5},{"p":25,"x":100,"t":6.0},{"p":25,"x":104,"t":6.5},{"p":25,"x":108,"t":6.0},{"p":25,"x":112,"t":6.5},{"p":25,"x":116,"t":6.0},{"p":25,"x":120,"t":6.5},{"p":25,"x":124,"t":5.5},{"p":25,"x":128,"t":6.0},{"p":25,"x":132,"t":5.5},{"p":25,"x":136,"t":6.0},{"p":25,"x":140,"t":5.0},{"p":25,"x":144,"t":4.5},{"p":25,"x":148,"t":5.5},{"p":25,"x":152,"t":5.0},{"p":25,"x":156,"t":6.0},{"p":25,"x":160,"t":5.5},{"p":25,"x":164,"t":4.5},{"p":25,"x":168,"t":5.0},{"p":25,"x":172,"t":8.6},{"p":25,"x":176,"t":5.0},{"p":25,"x":180,"t":1.9},{"p":25,"x":184,"t":4.0},{"p":25,"x":188,"t":6.0},{"p":25,"x":192,"t":4.5},{"p":25,"x":196,"t":2.9},{"p":25,"x":200,"t":3.5},{"p":25,"x":204,"t":3.9},{"p":25,"x":208,"t":3.0},{"p":25,"x":212,"t":3.5},{"p":25,"x":216,"t":3.4}
]},
"data":{"name":"s"},
"columns":5,
"spacing":{"row":9,"column":11},
"bounds":"flush",
"concat":[
{"width":149,"height":111,"layer":[
 {"transform":[{"filter":"datum.p==1"}],"mark":"line","encoding":{"x":{"field":"x","type":"quantitative","scale":{"domain":[0,218],"nice":false},"axis":null},"y":{"field":"t","type":"quantitative","scale":{"domain":[-4.4,30.3],"nice":false},"axis":{"values":[0,10,20,30],"title":null}}}},
 {"data":{"name":"box"},"mark":{"type":"rect","filled":false,"stroke":"#ff0000","strokeWidth":2},"encoding":{"x":{"field":"x1","type":"quantitative","scale":{"domain":[0,218],"nice":false},"axis":null},"x2":{"field":"x2"},"y":{"field":"y1","type":"quantitative","scale":{"domain":[-4.4,30.3],"nice":false},"axis":{"values":[0,10,20,30],"title":null}},"y2":{"field":"y2"}}}
]},
{"width":149,"height":111,"transform":[{"filter":"datum.p==2"}],"mark":"line","encoding":{"x":{"field":"x","type":"quantitative","scale":{"domain":[0,218],"nice":false},"axis":null},"y":{"field":"t","type":"quantitative","scale":{"domain":[-4.4,30.3],"nice":false},"axis":null}}},
{"width":149,"height":111,"transform":[{"filter":"datum.p==3"}],"mark":"line","encoding":{"x":{"field":"x","type":"quantitative","scale":{"domain":[0,218],"nice":false},"axis":null},"y":{"field":"t","type":"quantitative","scale":{"domain":[-4.4,30.3],"nice":false},"axis":null}}},
{"width":149,"height":111,"transform":[{"filter":"datum.p==4"}],"mark":"line","encoding":{"x":{"field":"x","type":"quantitative","scale":{"domain":[0,218],"nice":false},"axis":null},"y":{"field":"t","type":"quantitative","scale":{"domain":[-4.4,30.3],"nice":false},"axis":null}}},
{"width":149,"height":111,"transform":[{"filter":"datum.p==5"}],"mark":"line","encoding":{"x":{"field":"x","type":"quantitative","scale":{"domain":[0,218],"nice":false},"axis":null},"y":{"field":"t","type":"quantitative","scale":{"domain":[-4.4,30.3],"nice":false},"axis":null}}},
{"width":149,"height":111,"transform":[{"filter":"datum.p==6"}],"mark":"line","encoding":{"x":{"field":"x","type":"quantitative","scale":{"domain":[0,218],"nice":false},"axis":null},"y":{"field":"t","type":"quantitative","scale":{"domain":[-4.4,30.3],"nice":false},"axis":{"values":[0,10,20,30],"title":null}}}},
{"width":149,"height":111,"transform":[{"filter":"datum.p==7"}],"mark":"line","encoding":{"x":{"field":"x","type":"quantitative","scale":{"domain":[0,218],"nice":false},"axis":null},"y":{"field":"t","type":"quantitative","scale":{"domain":[-4.4,30.3],"nice":false},"axis":null}}},
{"width":149,"height":111,"transform":[{"filter":"datum.p==8"}],"mark":"line","encoding":{"x":{"field":"x","type":"quantitative","scale":{"domain":[0,218],"nice":false},"axis":null},"y":{"field":"t","type":"quantitative","scale":{"domain":[-4.4,30.3],"nice":false},"axis":null}}},
{"width":149,"height":111,"transform":[{"filter":"datum.p==9"}],"mark":"line","encoding":{"x":{"field":"x","type":"quantitative","scale":{"domain":[0,218],"nice":false},"axis":null},"y":{"field":"t","type":"quantitative","scale":{"domain":[-4.4,30.3],"nice":false},"axis":null}}},
{"width":149,"height":111,"transform":[{"filter":"datum.p==10"}],"mark":"line","encoding":{"x":{"field":"x","type":"quantitative","scale":{"domain":[0,218],"nice":false},"axis":null},"y":{"field":"t","type":"quantitative","scale":{"domain":[-4.4,30.3],"nice":false},"axis":null}}},
{"width":149,"height":111,"transform":[{"filter":"datum.p==11"}],"mark":"line","encoding":{"x":{"field":"x","type":"quantitative","scale":{"domain":[0,218],"nice":false},"axis":null},"y":{"field":"t","type":"quantitative","scale":{"domain":[-4.4,30.3],"nice":false},"axis":{"values":[0,10,20,30],"title":null}}}},
{"width":149,"height":111,"transform":[{"filter":"datum.p==12"}],"mark":"line","encoding":{"x":{"field":"x","type":"quantitative","scale":{"domain":[0,218],"nice":false},"axis":null},"y":{"field":"t","type":"quantitative","scale":{"domain":[-4.4,30.3],"nice":false},"axis":null}}},
{"width":149,"height":111,"transform":[{"filter":"datum.p==13"}],"mark":"line","encoding":{"x":{"field":"x","type":"quantitative","scale":{"domain":[0,218],"nice":false},"axis":null},"y":{"field":"t","type":"quantitative","scale":{"domain":[-4.4,30.3],"nice":false},"axis":null}}},
{"width":149,"height":111,"transform":[{"filter":"datum.p==14"}],"mark":"line","encoding":{"x":{"field":"x","type":"quantitative","scale":{"domain":[0,218],"nice":false},"axis":null},"y":{"field":"t","type":"quantitative","scale":{"domain":[-4.4,30.3],"nice":false},"axis":null}}},
{"width":149,"height":111,"transform":[{"filter":"datum.p==15"}],"mark":"line","encoding":{"x":{"field":"x","type":"quantitative","scale":{"domain":[0,218],"nice":false},"axis":null},"y":{"field":"t","type":"quantitative","scale":{"domain":[-4.4,30.3],"nice":false},"axis":null}}},
{"width":149,"height":111,"transform":[{"filter":"datum.p==16"}],"mark":"line","encoding":{"x":{"field":"x","type":"quantitative","scale":{"domain":[0,218],"nice":false},"axis":null},"y":{"field":"t","type":"quantitative","scale":{"domain":[-4.4,30.3],"nice":false},"axis":{"values":[0,10,20,30],"title":null}}}},
{"width":149,"height":111,"transform":[{"filter":"datum.p==17"}],"mark":"line","encoding":{"x":{"field":"x","type":"quantitative","scale":{"domain":[0,218],"nice":false},"axis":null},"y":{"field":"t","type":"quantitative","scale":{"domain":[-4.4,30.3],"nice":false},"axis":null}}},
{"width":149,"height":111,"transform":[{"filter":"datum.p==18"}],"mark":"line","encoding":{"x":{"field":"x","type":"quantitative","scale":{"domain":[0,218],"nice":false},"axis":null},"y":{"field":"t","type":"quantitative","scale":{"domain":[-4.4,30.3],"nice":false},"axis":null}}},
{"width":149,"height":111,"transform":[{"filter":"datum.p==19"}],"mark":"line","encoding":{"x":{"field":"x","type":"quantitative","scale":{"domain":[0,218],"nice":false},"axis":null},"y":{"field":"t","type":"quantitative","scale":{"domain":[-4.4,30.3],"nice":false},"axis":null}}},
{"width":149,"height":111,"transform":[{"filter":"datum.p==20"}],"mark":"line","encoding":{"x":{"field":"x","type":"quantitative","scale":{"domain":[0,218],"nice":false},"axis":null},"y":{"field":"t","type":"quantitative","scale":{"domain":[-4.4,30.3],"nice":false},"axis":null}}},
{"width":149,"height":111,"transform":[{"filter":"datum.p==21"}],"mark":"line","encoding":{"x":{"field":"x","type":"quantitative","scale":{"domain":[0,218],"nice":false},"axis":{"values":[0,100,200],"title":"Dynamic number"}},"y":{"field":"t","type":"quantitative","scale":{"domain":[-4.4,30.3],"nice":false},"axis":{"values":[0,10,20,30],"title":"Temperature °C"}}}},
{"width":149,"height":111,"transform":[{"filter":"datum.p==22"}],"mark":"line","encoding":{"x":{"field":"x","type":"quantitative","scale":{"domain":[0,218],"nice":false},"axis":{"values":[0,100,200],"title":null}},"y":{"field":"t","type":"quantitative","scale":{"domain":[-4.4,30.3],"nice":false},"axis":null}}},
{"width":149,"height":111,"transform":[{"filter":"datum.p==23"}],"mark":"line","encoding":{"x":{"field":"x","type":"quantitative","scale":{"domain":[0,218],"nice":false},"axis":{"values":[0,100,200],"title":null}},"y":{"field":"t","type":"quantitative","scale":{"domain":[-4.4,30.3],"nice":false},"axis":null}}},
{"width":149,"height":111,"transform":[{"filter":"datum.p==24"}],"mark":"line","encoding":{"x":{"field":"x","type":"quantitative","scale":{"domain":[0,218],"nice":false},"axis":{"values":[0,100,200],"title":null}},"y":{"field":"t","type":"quantitative","scale":{"domain":[-4.4,30.3],"nice":false},"axis":null}}},
{"width":149,"height":111,"transform":[{"filter":"datum.p==25"}],"mark":"line","encoding":{"x":{"field":"x","type":"quantitative","scale":{"domain":[0,218],"nice":false},"axis":{"values":[0,100,200],"title":null}},"y":{"field":"t","type":"quantitative","scale":{"domain":[-4.4,30.3],"nice":false},"axis":null}}}
],
"config":{
"view":{"stroke":"#404040","strokeWidth":1.3},
"axis":{"labelFont":"DejaVu Sans","labelFontSize":15,"labelColor":"#505050","ticks":false,"domain":false,"grid":false,"labelFlush":false,"titleFont":"Open Sans","titleFontSize":20,"titleFontWeight":"normal","titleColor":"#000000"},
"axisX":{"labelPadding":10,"titlePadding":13},
"axisY":{"labelPadding":8,"titlePadding":10},
"line":{"color":"#0a6dbd","strokeWidth":2.6,"interpolate":"step"}
}
}
